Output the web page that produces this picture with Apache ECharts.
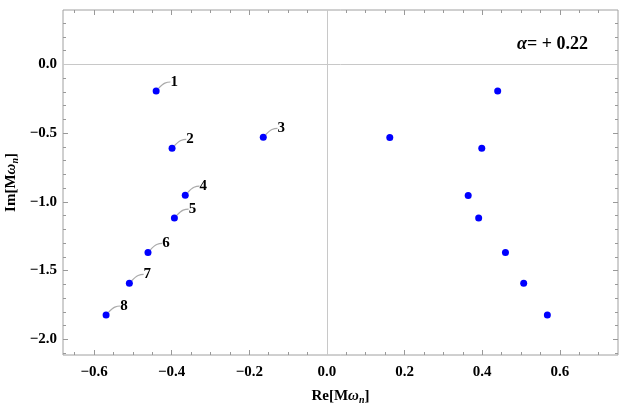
<!DOCTYPE html>
<html>
<head>
<meta charset="utf-8">
<script src="https://cdn.jsdelivr.net/npm/echarts@6/dist/echarts.min.js"></script>
<style>
  html, body { margin: 0; padding: 0; background: #fff; }
  #chart { width: 625px; height: 406px; }
</style>
</head>
<body>
<div id="chart"></div>
<script>
// 左半平面的模式 (带编号)
const modeNames = ['1', '2', '3', '4', '5', '6', '7', '8']
const reLeft = [-0.440, -0.399, -0.164, -0.365, -0.393, -0.461, -0.509, -0.569]
const imLeft = [-0.194, -0.611, -0.531, -0.952, -1.118, -1.368, -1.593, -1.823]
// 右半平面的模式
const reRight = [0.440, 0.399, 0.162, 0.364, 0.391, 0.460, 0.507, 0.568]
const imRight = [-0.194, -0.611, -0.533, -0.954, -1.118, -1.369, -1.593, -1.823]

// 刻度
const xMajor = [-0.6, -0.4, -0.2, 0, 0.2, 0.4, 0.6]
const xMinor = [-0.65, -0.55, -0.5, -0.45, -0.35, -0.3, -0.25, -0.15, -0.1, -0.05,
  0.05, 0.1, 0.15, 0.25, 0.3, 0.35, 0.45, 0.5, 0.55, 0.65, 0.7]
const yMajor = [0, -0.5, -1.0, -1.5, -2.0]
const yMinor = [0.3, 0.2, 0.1, -0.1, -0.2, -0.3, -0.4, -0.6, -0.7, -0.8, -0.9,
  -1.1, -1.2, -1.3, -1.4, -1.6, -1.7, -1.8, -1.9, -2.1]

const xRange = [-0.68, 0.75]
const yRange = [-2.114, 0.395]

const fontFam = '"Liberation Serif", "DejaVu Serif", serif'
const tickColor = '#999'

const chart = echarts.init(document.getElementById('chart'))

// 数字格式: 负号用 U+2212
const fmt = (v) => {
  const s = Math.abs(v).toFixed(1)
  return v < -1e-9 ? '\u2212' + s : s
}

// 生成一根只画刻度的坐标轴
const tickAxis = (pos, type, ticks, len, showLabel) => {
  const ax = {
    type: 'value',
    position: pos,
    min: type === 'x' ? xRange[0] : yRange[0],
    max: type === 'x' ? xRange[1] : yRange[1],
    axisLine: { show: false, onZero: false },
    splitLine: { show: false },
    axisTick: {
      show: true,
      inside: true,
      length: len,
      customValues: ticks,
      lineStyle: { color: tickColor, width: 1 }
    },
    axisLabel: { show: false }
  }
  if (showLabel) {
    ax.axisLabel = {
      show: true,
      customValues: ticks,
      formatter: fmt,
      fontFamily: fontFam,
      fontWeight: 'bold',
      fontSize: 15,
      color: '#000',
      margin: type === 'x' ? 10 : 6
    }
  }
  return ax
}

const nameStyle = {
  rich: {
    b: { fontFamily: fontFam, fontWeight: 'bold', fontSize: 15, color: '#000' },
    i: { fontFamily: fontFam, fontWeight: 'bold', fontStyle: 'italic', fontSize: 15, color: '#000' },
    s: { fontFamily: fontFam, fontWeight: 'bold', fontStyle: 'italic', fontSize: 10, color: '#000', verticalAlign: 'bottom', padding: [8, 0, 0, 0] }
  }
}

const xAxes = [
  tickAxis('bottom', 'x', xMajor, 5, true),
  tickAxis('bottom', 'x', xMinor, 3, false),
  tickAxis('top', 'x', xMajor, 5, false),
  tickAxis('top', 'x', xMinor, 3, false)
]
xAxes[0].name = '{b|Re[M}{i|ω}{s|n}{b|]}'
xAxes[0].nameLocation = 'middle'
xAxes[0].nameGap = 32
xAxes[0].nameTextStyle = nameStyle

const yAxes = [
  tickAxis('left', 'y', yMajor, 5, true),
  tickAxis('left', 'y', yMinor, 3, false),
  tickAxis('right', 'y', yMajor, 5, false),
  tickAxis('right', 'y', yMinor, 3, false)
]
yAxes[0].name = '{b|Im[M}{i|ω}{s|n}{b|]}'
yAxes[0].nameLocation = 'middle'
yAxes[0].nameGap = 43
yAxes[0].nameMoveOverlap = false
yAxes[0].nameRotate = 90
yAxes[0].nameTextStyle = nameStyle

const option = {
  backgroundColor: '#fff',
  animation: false,
  grid: {
    left: 63,
    right: 7,
    top: 10,
    bottom: 51,
    outerBoundsMode: 'none',
    show: true,
    borderColor: '#a0a0a0',
    borderWidth: 1
  },
  xAxis: xAxes,
  yAxis: yAxes,
  graphic: [
    {
      type: 'text',
      right: 37,
      top: 35,
      style: {
        text: '{i|α}{b|= + 0.22}',
        rich: {
          i: { fontFamily: fontFam, fontStyle: 'italic', fontWeight: 'bold', fontSize: 18, fill: '#000' },
          b: { fontFamily: fontFam, fontWeight: 'bold', fontSize: 18, fill: '#000' }
        }
      }
    }
  ],
  series: [
    {
      type: 'scatter',
      xAxisIndex: 0,
      yAxisIndex: 0,
      symbolSize: 7,
      itemStyle: { color: '#0000ff', opacity: 1 },
      data: reLeft.map((x, i) => ({ value: [x, imLeft[i]], name: modeNames[i] })),
      label: {
        show: true,
        position: 'inside',
        formatter: '{b}',
        fontFamily: fontFam,
        fontWeight: 'bold',
        fontSize: 15,
        color: '#000',
        opacity: 1
      },
      labelLayout: { dx: 18, dy: -9 },
      labelLine: {
        show: true,
        length2: 6,
        smooth: 0.5,
        lineStyle: { color: '#aaa', width: 1.2, opacity: 1 }
      },
      markLine: {
        silent: true,
        symbol: 'none',
        label: { show: false },
        lineStyle: { color: '#c8c8c8', width: 1, type: 'solid' },
        data: [{ xAxis: 0 }, { yAxis: 0 }]
      }
    },
    {
      type: 'scatter',
      xAxisIndex: 0,
      yAxisIndex: 0,
      symbolSize: 7,
      itemStyle: { color: '#0000ff', opacity: 1 },
      data: reRight.map((x, i) => [x, imRight[i]])
    }
  ]
}
chart.setOption(option)
</script>
</body>
</html>
